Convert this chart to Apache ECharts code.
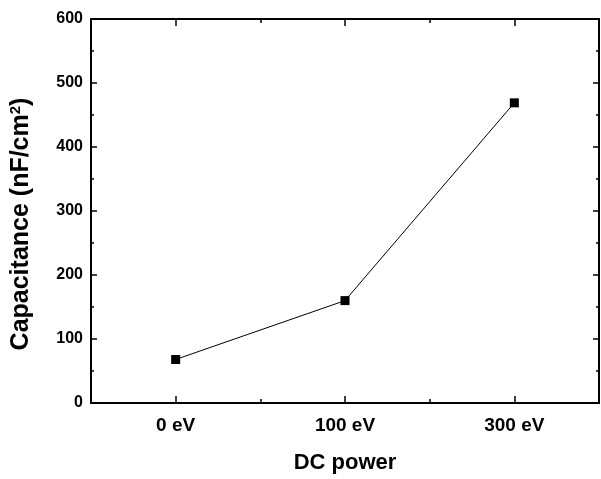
<!DOCTYPE html>
<html>
<head>
<meta charset="utf-8">
<script src="https://cdn.jsdelivr.net/npm/echarts@6/dist/echarts.min.js"></script>
<style>
html,body{margin:0;padding:0;background:#fff;}
#c{width:601px;height:479px;}
</style>
</head>
<body>
<div id="c"></div>
<script>
const categories = ['0 eV', '100 eV', '300 eV'];
const capacitance = [68, 160, 469];
const yMin = 0, yMax = 600, yStep = 100;
const xTitle = 'DC power';

const chart = echarts.init(document.getElementById('c'), null, {renderer: 'canvas'});
const font = 'Liberation Sans, Arial, sans-serif';
const axisLine = {show: true, lineStyle: {color: '#000', width: 2}};

function catAxis(pos, major, showLabels, extra) {
  return Object.assign({
    type: 'category', data: categories, position: pos, boundaryGap: true,
    axisLine: axisLine,
    axisTick: {show: true, inside: true, alignWithLabel: major, length: major ? 7 : 4, lineStyle: {color: '#000', width: 1.5}},
    axisLabel: {show: showLabels, color: '#000', fontFamily: font, fontWeight: 'bold', fontSize: 19, margin: 13},
    splitLine: {show: false}
  }, extra || {});
}
function valAxis(pos, showLabels, extra) {
  return Object.assign({
    type: 'value', min: yMin, max: yMax, interval: yStep, position: pos,
    axisLine: axisLine,
    axisTick: {show: true, inside: true, length: 6, lineStyle: {color: '#000', width: 1.5}},
    minorTick: {show: true, splitNumber: 2, length: 3, lineStyle: {color: '#000', width: 1.5}},
    axisLabel: {show: showLabels, color: '#000', fontFamily: font, fontWeight: 'bold', fontSize: 16, margin: 8},
    splitLine: {show: false}, minorSplitLine: {show: false}
  }, extra || {});
}

chart.setOption({
  backgroundColor: '#fff',
  animation: false,
  grid: {left: 91, right: 2, top: 19, bottom: 74, containLabel: false},
  xAxis: [
    catAxis('bottom', true, true, {
      name: xTitle, nameLocation: 'middle', nameGap: 49,
      nameTextStyle: {color: '#000', fontFamily: font, fontWeight: 'bold', fontSize: 22}
    }),
    catAxis('bottom', false, false),
    catAxis('top', true, false),
    catAxis('top', false, false)
  ],
  yAxis: [
    valAxis('left', true, {
      name: '{t|Capacitance (nF/cm}{s|2}{t|)}', nameLocation: 'middle', nameGap: 56,
      nameTextStyle: {
        color: '#000', fontFamily: font, fontWeight: 'bold', fontSize: 25,
        padding: [0, 26, 0, 0],
        rich: {
          t: {color: '#000', fontFamily: font, fontWeight: 'bold', fontSize: 25},
          s: {color: '#000', fontFamily: font, fontWeight: 'bold', fontSize: 15, verticalAlign: 'top', padding: [0, 0, 12, 0]}
        }
      }
    }),
    valAxis('right', false)
  ],
  series: [{
    type: 'line', xAxisIndex: 0, yAxisIndex: 0,
    data: capacitance,
    symbol: 'rect', symbolSize: 9,
    itemStyle: {color: '#000'},
    lineStyle: {color: '#000', width: 1},
    z: 5
  }]
});
</script>
</body>
</html>
